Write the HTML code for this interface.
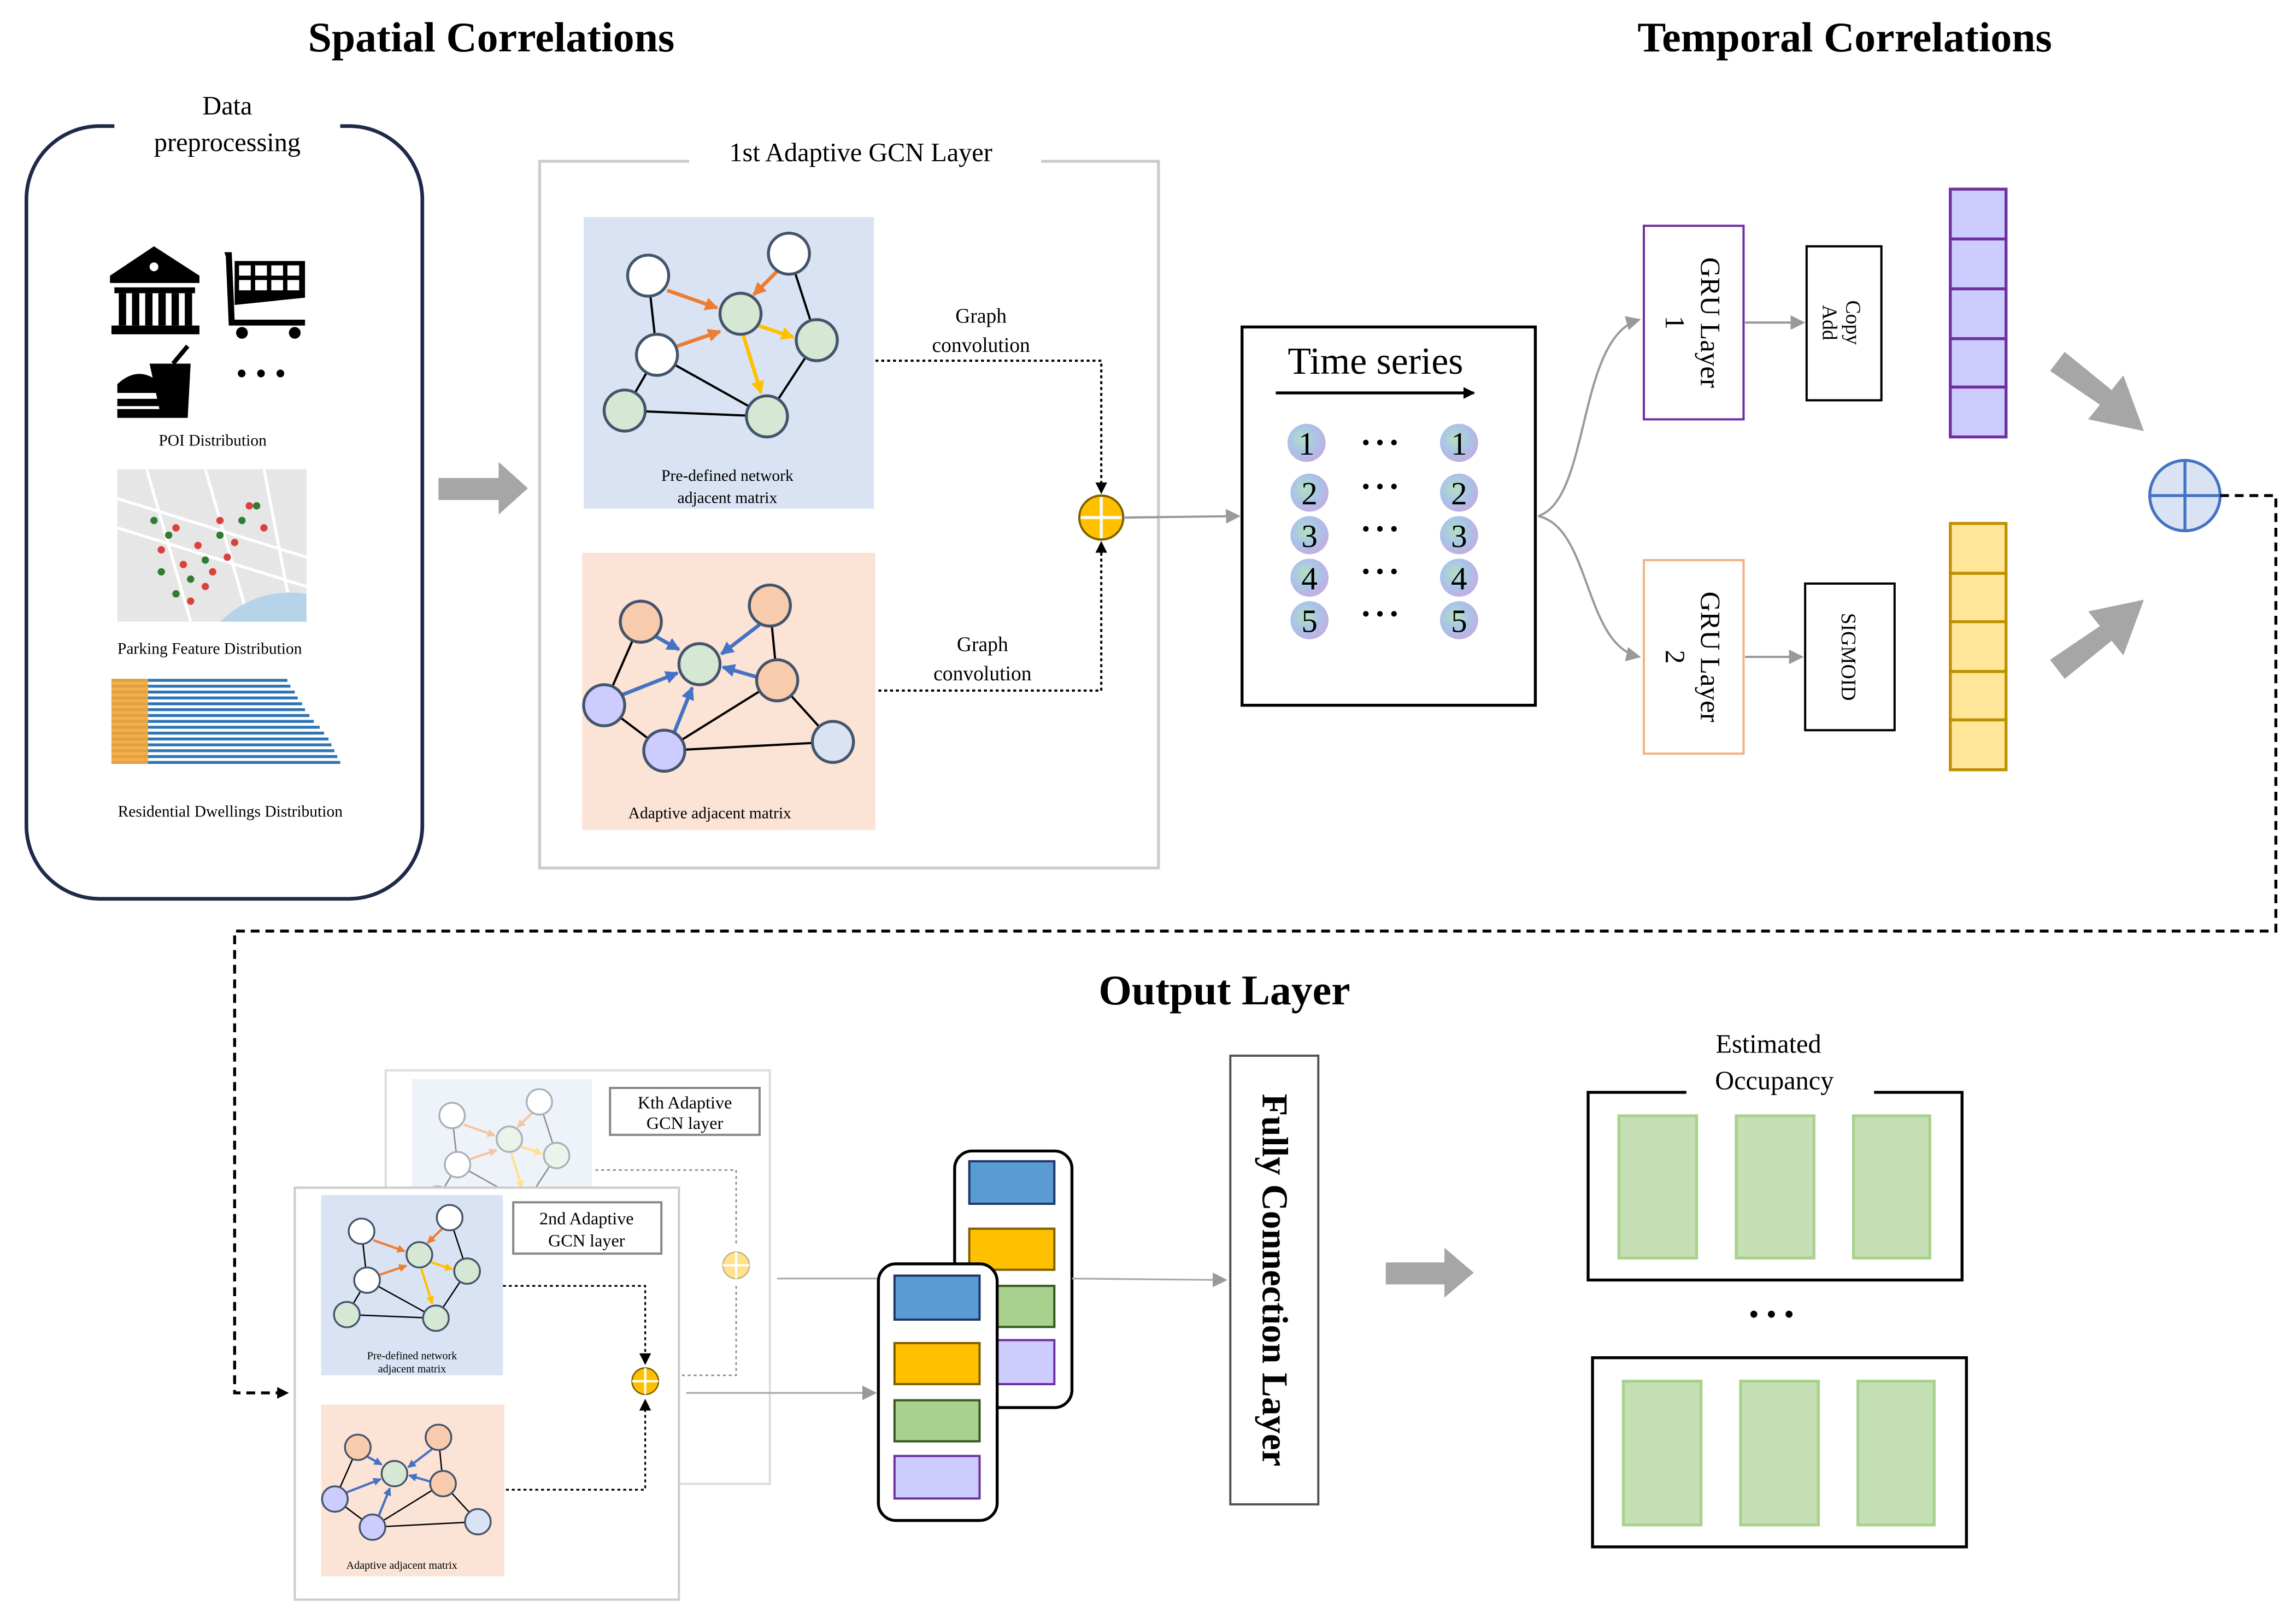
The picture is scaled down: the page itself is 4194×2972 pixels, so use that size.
<!DOCTYPE html>
<html><head><meta charset="utf-8"><style>
html,body{margin:0;padding:0;background:#fff}
svg{display:block}
text{font-family:"Liberation Serif",serif;fill:#000}
</style></head><body>
<svg width="4194" height="2972" viewBox="0 0 1563 1107.6" xmlns="http://www.w3.org/2000/svg">
<defs>
<marker id="ab" markerWidth="8" markerHeight="8" refX="7" refY="4" orient="auto" markerUnits="userSpaceOnUse"><path d="M0,0 L8,4 L0,8 z" fill="#000"/></marker>
<marker id="ag" markerWidth="10" markerHeight="10" refX="9" refY="5" orient="auto" markerUnits="userSpaceOnUse"><path d="M0,0 L10,5 L0,10 z" fill="#999"/></marker>
<marker id="ao" markerWidth="9" markerHeight="9" refX="8" refY="4.5" orient="auto" markerUnits="userSpaceOnUse"><path d="M0,0 L9,4.5 L0,9 z" fill="#ed7d31"/></marker>
<marker id="ay" markerWidth="9" markerHeight="9" refX="8" refY="4.5" orient="auto" markerUnits="userSpaceOnUse"><path d="M0,0 L9,4.5 L0,9 z" fill="#ffc000"/></marker>
<marker id="abl" markerWidth="9" markerHeight="9" refX="8" refY="4.5" orient="auto" markerUnits="userSpaceOnUse"><path d="M0,0 L9,4.5 L0,9 z" fill="#4472c4"/></marker>
<radialGradient id="ng" cx="0.4" cy="0.4" r="0.7"><stop offset="0" stop-color="#b4e0c0"/><stop offset="0.5" stop-color="#a9c4e8"/><stop offset="1" stop-color="#c9a8e0"/></radialGradient>
<g id="blueG">
<g stroke="#000" stroke-width="1.5">
<line x1="442" y1="188" x2="448" y2="242"/><line x1="538" y1="173" x2="557" y2="232"/>
<line x1="448" y1="242" x2="426" y2="280"/><line x1="448" y1="242" x2="523" y2="284"/>
<line x1="426" y1="280" x2="523" y2="284"/><line x1="557" y1="232" x2="523" y2="284"/>
</g>
<line x1="455" y1="198" x2="489" y2="210" stroke="#ed7d31" stroke-width="2.5" marker-end="url(#ao)"/>
<line x1="530" y1="185" x2="514" y2="201" stroke="#ed7d31" stroke-width="2.5" marker-end="url(#ao)"/>
<line x1="462" y1="236" x2="491" y2="226" stroke="#ed7d31" stroke-width="2.5" marker-end="url(#ao)"/>
<line x1="517" y1="222" x2="541" y2="230" stroke="#ffc000" stroke-width="2.5" marker-end="url(#ay)"/>
<line x1="507" y1="229" x2="519" y2="268" stroke="#ffc000" stroke-width="2.5" marker-end="url(#ay)"/>
<g stroke="#44546a" stroke-width="2">
<circle cx="442" cy="188" r="14" fill="#fff"/><circle cx="538" cy="173" r="14" fill="#fff"/><circle cx="448" cy="242" r="14" fill="#fff"/>
<circle cx="505" cy="214" r="14" fill="#d5e8d4"/><circle cx="557" cy="232" r="14" fill="#d5e8d4"/><circle cx="426" cy="280" r="14" fill="#d5e8d4"/><circle cx="523" cy="284" r="14" fill="#d5e8d4"/>
</g>
</g>
<g id="orG">
<g stroke="#000" stroke-width="1.5">
<line x1="437" y1="424" x2="412" y2="481"/><line x1="525" y1="413" x2="530" y2="464"/>
<line x1="412" y1="481" x2="453" y2="512"/><line x1="453" y1="512" x2="568" y2="506"/>
<line x1="453" y1="512" x2="530" y2="464"/><line x1="530" y1="464" x2="568" y2="506"/>
</g>
<line x1="447" y1="434" x2="463" y2="443" stroke="#4472c4" stroke-width="2.5" marker-end="url(#abl)"/>
<line x1="518" y1="426" x2="492" y2="446" stroke="#4472c4" stroke-width="2.5" marker-end="url(#abl)"/>
<line x1="517" y1="462" x2="493" y2="455" stroke="#4472c4" stroke-width="2.5" marker-end="url(#abl)"/>
<line x1="424" y1="474" x2="462" y2="459" stroke="#4472c4" stroke-width="2.5" marker-end="url(#abl)"/>
<line x1="460" y1="499" x2="472" y2="469" stroke="#4472c4" stroke-width="2.5" marker-end="url(#abl)"/>
<g stroke="#44546a" stroke-width="2">
<circle cx="437" cy="424" r="14" fill="#f8cbad"/><circle cx="525" cy="413" r="14" fill="#f8cbad"/><circle cx="530" cy="464" r="14" fill="#f8cbad"/>
<circle cx="477" cy="453" r="14" fill="#d5e8d4"/><circle cx="412" cy="481" r="14" fill="#ccccff"/><circle cx="453" cy="512" r="14" fill="#ccccff"/><circle cx="568" cy="506" r="14" fill="#dae3f3"/>
</g>
</g>
</defs>

<!-- titles -->
<text x="335" y="35" font-size="29" font-weight="bold" text-anchor="middle">Spatial Correlations</text>
<text x="1258" y="35" font-size="29" font-weight="bold" text-anchor="middle">Temporal Correlations</text>
<text x="835" y="685" font-size="29" font-weight="bold" text-anchor="middle">Output Layer</text>

<!-- data preprocessing -->
<rect x="18" y="86" width="270" height="527" rx="50" fill="none" stroke="#1f2a4a" stroke-width="2.5"/>
<rect x="78" y="78" width="154" height="20" fill="#fff"/>
<text x="155" y="78" font-size="18" text-anchor="middle">Data</text>
<text x="155" y="103" font-size="18" text-anchor="middle">preprocessing</text>
<!-- bank -->
<g fill="#000"><path d="M105,168 L136,188 L136,193 L75,193 L75,188 z"/><rect x="78" y="196" width="55" height="4"/>
<rect x="81" y="200" width="5" height="22"/><rect x="90" y="200" width="5" height="22"/><rect x="99" y="200" width="5" height="22"/><rect x="108" y="200" width="5" height="22"/><rect x="117" y="200" width="5" height="22"/><rect x="126" y="200" width="5" height="22"/>
<rect x="76" y="222" width="60" height="6"/></g>
<circle cx="105" cy="182" r="3" fill="#fff"/>
<!-- cart -->
<g fill="#000"><path d="M153,172 L158,172 L160,218 L208,218 L208,222 L156,222 L154,175 z"/>
<path d="M160,178 L208,178 L208,203 L160,208 z"/><circle cx="165" cy="227" r="4"/><circle cx="201" cy="227" r="4"/></g>
<g fill="#fff"><rect x="163" y="181" width="8" height="7"/><rect x="174" y="181" width="8" height="7"/><rect x="185" y="181" width="8" height="7"/><rect x="196" y="181" width="8" height="7"/>
<rect x="163" y="191" width="8" height="7"/><rect x="174" y="191" width="8" height="7"/><rect x="185" y="191" width="8" height="7"/><rect x="196" y="191" width="8" height="7"/></g>
<!-- fast food -->
<g fill="#000"><path d="M102,248 L130,248 L128,285 L110,285 z"/><line x1="118" y1="248" x2="128" y2="236" stroke="#000" stroke-width="3"/>
<path d="M80,262 Q95,248 110,262 L110,268 L80,268 z"/><rect x="80" y="272" width="30" height="5"/><rect x="80" y="279" width="30" height="6"/></g>
<text x="178" y="262" font-size="22" text-anchor="middle">• • •</text>
<text x="145" y="304" font-size="11" text-anchor="middle">POI  Distribution</text>
<!-- map -->
<rect x="80" y="320" width="129" height="104" fill="#e6e6e6"/>
<g stroke="#fff" stroke-width="2"><line x1="80" y1="340" x2="209" y2="380"/><line x1="80" y1="360" x2="209" y2="400"/><line x1="100" y1="320" x2="130" y2="424"/><line x1="140" y1="320" x2="170" y2="424"/><line x1="180" y1="320" x2="200" y2="424"/></g>
<path d="M150,424 Q175,400 209,405 L209,424 z" fill="#b7d3ea"/>
<g fill="#d9413a"><circle cx="120" cy="360" r="2.5"/><circle cx="135" cy="372" r="2.5"/><circle cx="150" cy="355" r="2.5"/><circle cx="160" cy="370" r="2.5"/><circle cx="125" cy="385" r="2.5"/><circle cx="145" cy="390" r="2.5"/><circle cx="170" cy="345" r="2.5"/><circle cx="110" cy="375" r="2.5"/><circle cx="140" cy="400" r="2.5"/><circle cx="180" cy="360" r="2.5"/><circle cx="130" cy="410" r="2.5"/><circle cx="155" cy="380" r="2.5"/></g>
<g fill="#2e7d32"><circle cx="115" cy="365" r="2.5"/><circle cx="130" cy="395" r="2.5"/><circle cx="105" cy="355" r="2.5"/><circle cx="140" cy="382" r="2.5"/><circle cx="120" cy="405" r="2.5"/><circle cx="165" cy="355" r="2.5"/><circle cx="175" cy="345" r="2.5"/><circle cx="110" cy="390" r="2.5"/><circle cx="150" cy="365" r="2.5"/></g>
<text x="143" y="446" font-size="11" text-anchor="middle">Parking Feature Distribution</text>
<!-- bar chart -->
<g>
<rect x="76" y="463" width="120" height="2" fill="#2e75b6"/><rect x="76" y="467" width="122" height="2" fill="#2e75b6"/><rect x="76" y="471" width="125" height="2" fill="#2e75b6"/><rect x="76" y="475" width="127" height="2" fill="#2e75b6"/><rect x="76" y="479" width="130" height="2" fill="#2e75b6"/><rect x="76" y="483" width="132" height="2" fill="#2e75b6"/><rect x="76" y="487" width="135" height="2" fill="#2e75b6"/><rect x="76" y="491" width="138" height="2" fill="#2e75b6"/><rect x="76" y="495" width="142" height="2" fill="#2e75b6"/><rect x="76" y="499" width="145" height="2" fill="#2e75b6"/><rect x="76" y="503" width="148" height="2" fill="#2e75b6"/><rect x="76" y="507" width="150" height="2" fill="#2e75b6"/><rect x="76" y="511" width="152" height="2" fill="#2e75b6"/><rect x="76" y="515" width="154" height="2" fill="#2e75b6"/><rect x="76" y="519" width="156" height="2" fill="#2e75b6"/>
<rect x="76" y="463" width="25" height="58" fill="#f4a636" opacity="0.9"/>
</g>
<text x="157" y="557" font-size="11" text-anchor="middle">Residential Dwellings Distribution</text>

<!-- big gray arrow -->
<path d="M299,326 L340,326 L340,315 L360,333 L340,351 L340,341 L299,341 z" fill="#a6a6a6"/>

<!-- 1st GCN -->
<rect x="368" y="110" width="422" height="482" fill="none" stroke="#ccc" stroke-width="2"/>
<rect x="470" y="100" width="240" height="20" fill="#fff"/>
<text x="587" y="110" font-size="18" text-anchor="middle">1st Adaptive GCN Layer</text>
<rect x="398" y="148" width="198" height="199" fill="#dae3f3"/>
<use href="#blueG"/>
<text x="496" y="328" font-size="11" text-anchor="middle">Pre-defined network</text>
<text x="496" y="343" font-size="11" text-anchor="middle">adjacent matrix</text>
<rect x="397" y="377" width="200" height="189" fill="#fbe3d6"/>
<use href="#orG"/>
<text x="484" y="558" font-size="11" text-anchor="middle">Adaptive adjacent matrix</text>
<text x="669" y="220" font-size="14" text-anchor="middle">Graph</text>
<text x="669" y="240" font-size="14" text-anchor="middle">convolution</text>
<text x="670" y="444" font-size="14" text-anchor="middle">Graph</text>
<text x="670" y="464" font-size="14" text-anchor="middle">convolution</text>
<polyline points="597,246 751,246 751,336" fill="none" stroke="#000" stroke-width="1.5" stroke-dasharray="2,2" marker-end="url(#ab)"/>
<polyline points="599,471 751,471 751,370" fill="none" stroke="#000" stroke-width="1.5" stroke-dasharray="2,2" marker-end="url(#ab)"/>
<circle cx="751" cy="353" r="15" fill="#ffc000" stroke="#7f6000" stroke-width="1.5"/>
<line x1="737" y1="353" x2="765" y2="353" stroke="#fff" stroke-width="2"/><line x1="751" y1="339" x2="751" y2="367" stroke="#fff" stroke-width="2"/>
<line x1="767" y1="353" x2="845" y2="352" stroke="#999" stroke-width="1.5" marker-end="url(#ag)"/>

<!-- time series -->
<rect x="847" y="223" width="200" height="258" fill="#fff" stroke="#000" stroke-width="2"/>
<text x="938" y="255" font-size="26" text-anchor="middle">Time series</text>
<line x1="870" y1="268" x2="1005" y2="268" stroke="#000" stroke-width="2" marker-end="url(#ab)"/>
<g font-size="22" text-anchor="middle">
<circle cx="891" cy="302" r="13" fill="url(#ng)"/><circle cx="995" cy="302" r="13" fill="url(#ng)"/>
<circle cx="893" cy="336" r="13" fill="url(#ng)"/><circle cx="995" cy="336" r="13" fill="url(#ng)"/>
<circle cx="893" cy="365" r="13" fill="url(#ng)"/><circle cx="995" cy="365" r="13" fill="url(#ng)"/>
<circle cx="893" cy="394" r="13" fill="url(#ng)"/><circle cx="995" cy="394" r="13" fill="url(#ng)"/>
<circle cx="893" cy="423" r="13" fill="url(#ng)"/><circle cx="995" cy="423" r="13" fill="url(#ng)"/>
<text x="891" y="310" fill="#555">1</text><text x="995" y="310" fill="#555">1</text>
<text x="893" y="344" fill="#555">2</text><text x="995" y="344" fill="#555">2</text>
<text x="893" y="373" fill="#555">3</text><text x="995" y="373" fill="#555">3</text>
<text x="893" y="402" fill="#555">4</text><text x="995" y="402" fill="#555">4</text>
<text x="893" y="431" fill="#555">5</text><text x="995" y="431" fill="#555">5</text>
<text x="941" y="307" font-size="16">• • •</text><text x="941" y="337" font-size="16">• • •</text><text x="941" y="366" font-size="16">• • •</text><text x="941" y="395" font-size="16">• • •</text><text x="941" y="424" font-size="16">• • •</text>
</g>

<!-- GRU -->
<path d="M1049,352 C1085,340 1075,230 1118,218" fill="none" stroke="#999" stroke-width="1.5" marker-end="url(#ag)"/>
<path d="M1049,352 C1085,360 1080,440 1118,448" fill="none" stroke="#999" stroke-width="1.5" marker-end="url(#ag)"/>
<rect x="1121" y="154" width="68" height="132" fill="#fff" stroke="#7030a0" stroke-width="1.5"/>
<text transform="translate(1160,220) rotate(90)" font-size="19" text-anchor="middle">GRU Layer</text>
<text transform="translate(1136,220) rotate(90)" font-size="19" text-anchor="middle">1</text>
<rect x="1121" y="382" width="68" height="132" fill="#fff" stroke="#f4b183" stroke-width="1.5"/>
<text transform="translate(1160,448) rotate(90)" font-size="19" text-anchor="middle">GRU Layer</text>
<text transform="translate(1136,448) rotate(90)" font-size="19" text-anchor="middle">2</text>
<line x1="1190" y1="220" x2="1230" y2="220" stroke="#999" stroke-width="1.5" marker-end="url(#ag)"/>
<line x1="1190" y1="448" x2="1229" y2="448" stroke="#999" stroke-width="1.5" marker-end="url(#ag)"/>
<rect x="1232" y="168" width="51" height="105" fill="#fff" stroke="#000" stroke-width="1.5"/>
<text transform="translate(1259,220) rotate(90)" font-size="14" text-anchor="middle">Copy</text>
<text transform="translate(1243,220) rotate(90)" font-size="14" text-anchor="middle">Add</text>
<rect x="1231" y="398" width="61" height="100" fill="#fff" stroke="#000" stroke-width="1.5"/>
<text transform="translate(1256,448) rotate(90)" font-size="14" text-anchor="middle">SIGMOID</text>
<g fill="#ccccff" stroke="#7030a0" stroke-width="2">
<rect x="1330" y="129" width="38" height="34"/><rect x="1330" y="163" width="38" height="34"/><rect x="1330" y="197" width="38" height="34"/><rect x="1330" y="231" width="38" height="33"/><rect x="1330" y="264" width="38" height="34"/></g>
<g fill="#ffe699" stroke="#bf9000" stroke-width="2">
<rect x="1330" y="357" width="38" height="34"/><rect x="1330" y="391" width="38" height="33"/><rect x="1330" y="424" width="38" height="34"/><rect x="1330" y="458" width="38" height="33"/><rect x="1330" y="491" width="38" height="34"/></g>
<path d="M1398,253 L1408,240 L1440,266 L1448,256 L1462,294 L1424,286 L1432,276 z" fill="#a6a6a6"/>
<path d="M1398,450 L1408,463 L1440,437 L1448,447 L1462,409 L1424,417 L1432,427 z" fill="#a6a6a6"/>
<circle cx="1490" cy="338" r="24" fill="#dae3f3" stroke="#4472c4" stroke-width="2"/>
<line x1="1466" y1="338" x2="1514" y2="338" stroke="#4472c4" stroke-width="2"/><line x1="1490" y1="314" x2="1490" y2="362" stroke="#4472c4" stroke-width="2"/>
<polyline points="1514,338 1552,338 1552,635 160,635 160,950 196,950" fill="none" stroke="#000" stroke-width="2" stroke-dasharray="6,4" marker-end="url(#ab)"/>

<!-- Kth card -->
<rect x="263" y="730" width="262" height="282" fill="#fff" stroke="#ddd" stroke-width="1.5"/>
<g opacity="0.45">
<g transform="translate(281,736) scale(0.62) translate(-398,-148)"><rect x="398" y="148" width="198" height="199" fill="#dae3f3"/><use href="#blueG"/></g>
<polyline points="406,798 502,798 502,850" fill="none" stroke="#000" stroke-width="1" stroke-dasharray="2,2"/>
<polyline points="445,938 502,938 502,876" fill="none" stroke="#000" stroke-width="1" stroke-dasharray="2,2"/>
<circle cx="502" cy="863" r="9" fill="#ffc000" stroke="#7f6000"/>
<line x1="493" y1="863" x2="511" y2="863" stroke="#fff" stroke-width="1.5"/><line x1="502" y1="854" x2="502" y2="872" stroke="#fff" stroke-width="1.5"/>
</g>
<rect x="416" y="742" width="102" height="32" fill="#fff" stroke="#888" stroke-width="1.5"/>
<text x="467" y="756" font-size="12" text-anchor="middle">Kth Adaptive</text>
<text x="467" y="770" font-size="12" text-anchor="middle">GCN layer</text>

<!-- 2nd card -->
<rect x="201" y="810" width="262" height="281" fill="#fff" stroke="#ccc" stroke-width="1.5"/>
<g transform="translate(219,815) scale(0.626,0.618) translate(-398,-148)"><rect x="398" y="148" width="198" height="199" fill="#dae3f3"/><use href="#blueG"/></g>
<text x="281" y="927" font-size="7.5" text-anchor="middle">Pre-defined network</text>
<text x="281" y="936" font-size="7.5" text-anchor="middle">adjacent matrix</text>
<g transform="translate(219,958) scale(0.625,0.619) translate(-397,-377)"><rect x="397" y="377" width="200" height="189" fill="#fbe3d6"/><use href="#orG"/></g>
<text x="274" y="1070" font-size="7.5" text-anchor="middle">Adaptive adjacent matrix</text>
<rect x="350" y="820" width="101" height="35" fill="#fff" stroke="#888" stroke-width="1.5"/>
<text x="400" y="835" font-size="12" text-anchor="middle">2nd Adaptive</text>
<text x="400" y="850" font-size="12" text-anchor="middle">GCN layer</text>
<polyline points="343,877 440,877 440,930" fill="none" stroke="#000" stroke-width="1.2" stroke-dasharray="2,2" marker-end="url(#ab)"/>
<polyline points="345,1016 440,1016 440,955" fill="none" stroke="#000" stroke-width="1.2" stroke-dasharray="2,2" marker-end="url(#ab)"/>
<circle cx="440" cy="942" r="9" fill="#ffc000" stroke="#7f6000"/>
<line x1="431" y1="942" x2="449" y2="942" stroke="#fff" stroke-width="1.5"/><line x1="440" y1="933" x2="440" y2="951" stroke="#fff" stroke-width="1.5"/>
<line x1="530" y1="872" x2="650" y2="872" stroke="#aaa" stroke-width="1.2"/>
<line x1="468" y1="950" x2="597" y2="950" stroke="#aaa" stroke-width="1.2" marker-end="url(#ag)"/>

<!-- stacks -->
<rect x="651" y="785" width="80" height="175" rx="12" fill="#fff" stroke="#000" stroke-width="2"/>
<rect x="661" y="792" width="58" height="29" fill="#5b9bd5" stroke="#1f3864" stroke-width="1.5"/>
<rect x="661" y="838" width="58" height="28" fill="#ffc000" stroke="#7f6000" stroke-width="1.5"/>
<rect x="661" y="877" width="58" height="28" fill="#a9d18e" stroke="#385723" stroke-width="1.5"/>
<rect x="661" y="914" width="58" height="30" fill="#ccccff" stroke="#7030a0" stroke-width="1.5"/>
<rect x="599" y="862" width="81" height="175" rx="12" fill="#fff" stroke="#000" stroke-width="2"/>
<rect x="610" y="870" width="58" height="30" fill="#5b9bd5" stroke="#1f3864" stroke-width="1.5"/>
<rect x="610" y="916" width="58" height="28" fill="#ffc000" stroke="#7f6000" stroke-width="1.5"/>
<rect x="610" y="955" width="58" height="28" fill="#a9d18e" stroke="#385723" stroke-width="1.5"/>
<rect x="610" y="993" width="58" height="29" fill="#ccccff" stroke="#7030a0" stroke-width="1.5"/>
<line x1="731" y1="872" x2="836" y2="873" stroke="#aaa" stroke-width="1.2" marker-end="url(#ag)"/>

<!-- FC -->
<rect x="839" y="720" width="60" height="306" fill="#fff" stroke="#555" stroke-width="1.5"/>
<text transform="translate(861,873) rotate(90)" font-size="25" font-weight="bold" text-anchor="middle">Fully Connection Layer</text>
<path d="M945,861 L985,861 L985,851 L1005,868 L985,885 L985,876 L945,876 z" fill="#a6a6a6"/>

<!-- occupancy -->
<rect x="1083" y="745" width="255" height="128" fill="none" stroke="#000" stroke-width="2"/>
<rect x="1150" y="735" width="128" height="20" fill="#fff"/>
<text x="1206" y="718" font-size="18" text-anchor="middle">Estimated</text>
<text x="1210" y="743" font-size="18" text-anchor="middle">Occupancy</text>
<g fill="#c5e0b4" stroke="#a9d18e" stroke-width="2">
<rect x="1104" y="761" width="53" height="97"/><rect x="1184" y="761" width="53" height="97"/><rect x="1264" y="761" width="52" height="97"/>
<rect x="1107" y="942" width="53" height="98"/><rect x="1187" y="942" width="53" height="98"/><rect x="1267" y="942" width="52" height="98"/>
</g>
<text x="1208" y="903" font-size="20" text-anchor="middle">• • •</text>
<rect x="1086" y="926" width="255" height="129" fill="none" stroke="#000" stroke-width="2"/>
</svg>
</body></html>
